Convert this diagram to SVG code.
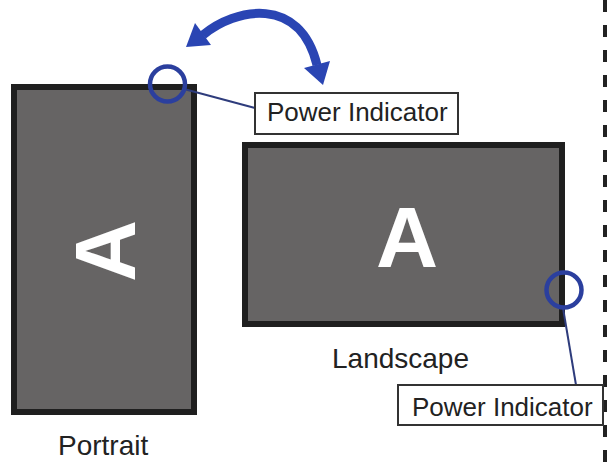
<svg xmlns="http://www.w3.org/2000/svg" width="609" height="462" viewBox="0 0 609 462">
<style>
.screen{fill:#666464;stroke:#1f1f1f;stroke-width:6}
.big{font-family:"Liberation Sans",Arial,sans-serif;font-weight:bold;font-size:86px;fill:#ffffff;text-anchor:middle}
.lbl{font-family:"Liberation Sans",Arial,sans-serif;font-size:28px;fill:#222222}
.pi{font-family:"Liberation Sans",Arial,sans-serif;font-size:26px;fill:#222222}
.box{fill:#ffffff;stroke:#333333;stroke-width:2}
.ring{fill:none;stroke:#2b3f9e;stroke-width:4.5}
.lead{stroke:#2e3c7c;stroke-width:2;fill:none}
.arr{fill:#2a45b3}
</style>
<rect width="609" height="462" fill="#ffffff"/>
<line x1="605" y1="0" x2="605" y2="462" stroke="#222222" stroke-width="4" stroke-dasharray="12 13"/>
<g id="portrait">
<rect class="screen" x="14" y="87" width="180" height="325"/>
<text class="big" transform="translate(104,251) rotate(-90)" x="0" y="31">A</text>
<text class="lbl" x="58" y="455">Portrait</text>
</g>
<g id="landscape">
<rect class="screen" x="245" y="145" width="317" height="179"/>
<text class="big" x="407" y="267">A</text>
<text class="lbl" x="332" y="368">Landscape</text>
</g>
<g id="rotate-arrow">
<path d="M203 35 C235 8,300 -5,317 65" fill="none" stroke="#2a45b3" stroke-width="9"/>
<polygon class="arr" points="186,47 195,23 211,45"/>
<polygon class="arr" points="323,85 304,68 330,61"/>
</g>
<g id="connectors">
<line class="lead" x1="184" y1="89" x2="255" y2="108"/>
<line class="lead" x1="563" y1="308" x2="576" y2="385"/>
</g>
<g id="indicator1">
<circle class="ring" cx="167.5" cy="84" r="17.5"/>
</g>
<g id="indicator2">
<circle class="ring" cx="564" cy="290" r="17.5"/>
</g>
<g id="label1">
<rect class="box" x="255" y="93" width="203" height="41"/>
<text class="pi" x="267" y="121">Power Indicator</text>
</g>
<g id="label2">
<rect class="box" x="398" y="385" width="205" height="40"/>
<text class="pi" x="412" y="416">Power Indicator</text>
</g>
</svg>
